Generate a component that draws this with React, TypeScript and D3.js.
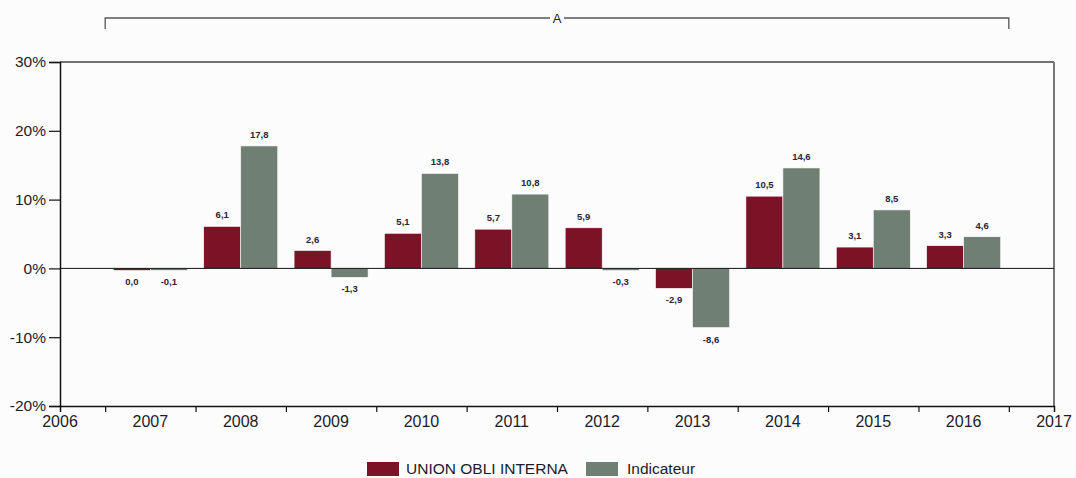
import React, { useEffect, useRef } from "react";
import * as d3 from "d3";

const years = [2007, 2008, 2009, 2010, 2011, 2012, 2013, 2014, 2015, 2016];
const seriesNames = ["UNION OBLI INTERNA", "Indicateur"];
const unionValues = [0.0, 6.1, 2.6, 5.1, 5.7, 5.9, -2.9, 10.5, 3.1, 3.3];
const indicValues = [-0.1, 17.8, -1.3, 13.8, 10.8, -0.3, -8.6, 14.6, 8.5, 4.6];
const yTicks = [-20, -10, 0, 10, 20, 30];
const xLabels = [2006, 2007, 2008, 2009, 2010, 2011, 2012, 2013, 2014, 2015, 2016, 2017];
const colors = ["#7c1226", "#6f7f73"];
const bracketLabel = "A";

export default function App() {
  const ref = useRef<SVGSVGElement | null>(null);

  useEffect(() => {
    const W = 1076, H = 478;
    const m = { left: 60, right: 22, top: 62, bottom: 72 };
    const svg = d3.select(ref.current);
    svg.selectAll("*").remove();
    svg.attr("width", W).attr("height", H);
    const font = "'Liberation Sans', Arial, sans-serif";

    svg.append("rect").attr("width", W).attr("height", H).attr("fill", "#fcfcfc");

    const x = d3.scaleLinear().domain([2006, 2017]).range([m.left, W - m.right]);
    const y = d3.scaleLinear().domain([-20, 30]).range([H - m.bottom, m.top]);
    const inner = d3.scaleBand<string>().domain(seriesNames).range([-37, 37]).padding(0);

    // frame
    svg.append("line").attr("x1", x(2006)).attr("x2", x(2017)).attr("y1", y(30)).attr("y2", y(30))
      .attr("stroke", "#444").attr("stroke-width", 1.5);
    svg.append("line").attr("x1", x(2017)).attr("x2", x(2017)).attr("y1", y(30)).attr("y2", y(-20))
      .attr("stroke", "#777").attr("stroke-width", 2);

    // bars
    const rows = years.map((yr, i) => ({ yr, vals: [unionValues[i], indicValues[i]] }));
    const g = svg.append("g");
    rows.forEach((r) => {
      r.vals.forEach((v, k) => {
        const bx = x(r.yr) + (inner(seriesNames[k]) as number);
        let top = Math.min(y(v), y(0));
        let h = Math.abs(y(v) - y(0));
        if (h < 2) { top = y(0); h = 2; }
        g.append("rect").attr("x", bx).attr("y", top).attr("width", inner.bandwidth()).attr("height", h)
          .attr("fill", colors[k]).attr("stroke", "#fcfcfc").attr("stroke-width", 0.6);
        const pos = v > 0;
        g.append("text")
          .attr("x", bx + inner.bandwidth() / 2)
          .attr("y", pos ? y(v) - 8 : top + h + 15)
          .attr("text-anchor", "middle")
          .attr("font-family", font).attr("font-size", 9.5).attr("font-weight", "bold")
          .attr("fill", "#2a2438")
          .text(d3.format(".1f")(v).replace(".", ",").replace("−", "-"));
      });
    });

    // zero line
    svg.append("line").attr("x1", x(2006)).attr("x2", x(2017)).attr("y1", y(0)).attr("y2", y(0))
      .attr("stroke", "#111").attr("stroke-width", 1);

    // y axis
    const ya = svg.append("g").attr("transform", `translate(${m.left},0)`)
      .call(d3.axisLeft(y).tickValues(yTicks).tickSize(11).tickPadding(3).tickFormat((d) => `${d}%`));
    ya.select(".domain").attr("stroke", "#111").attr("stroke-width", 1.5);
    ya.selectAll(".tick line").attr("stroke", "#111").attr("stroke-width", 1.2);
    ya.selectAll("text").attr("font-family", font).attr("font-size", 15.5).attr("fill", "#1d1a2c");

    // x axis
    const bottom = y(-20);
    const xa = svg.append("g").attr("transform", `translate(0,${bottom})`)
      .call(d3.axisBottom(x).tickValues(years.map((d) => d - 0.5).concat([2016.5])).tickSize(6).tickFormat(() => ""));
    xa.select(".domain").attr("stroke", "#111").attr("stroke-width", 1.5);
    xa.selectAll(".tick line").attr("stroke", "#111").attr("stroke-width", 1.2);
    svg.append("g").selectAll("text").data(xLabels).join("text")
      .attr("x", (d) => x(d)).attr("y", bottom + 21)
      .attr("text-anchor", "middle")
      .attr("font-family", font).attr("font-size", 16).attr("fill", "#1d1a2c")
      .text((d) => String(d));

    // bracket
    const bx0 = x(2006.5), bx1 = x(2016.5), by = 18;
    svg.append("path")
      .attr("d", `M${bx0},${by + 11}V${by}H${bx1}V${by + 11}`)
      .attr("fill", "none").attr("stroke", "#555").attr("stroke-width", 1.3);
    svg.append("rect").attr("x", (bx0 + bx1) / 2 - 7).attr("y", by - 7).attr("width", 14).attr("height", 14).attr("fill", "#fcfcfc");
    svg.append("text").attr("x", (bx0 + bx1) / 2).attr("y", by + 5).attr("text-anchor", "middle")
      .attr("font-family", font).attr("font-size", 13).attr("fill", "#1d1a2c").text(bracketLabel);

    // legend
    const leg = [
      { name: seriesNames[0], x: 367, tx: 406 },
      { name: seriesNames[1], x: 586, tx: 627 },
    ];
    leg.forEach((l, k) => {
      svg.append("rect").attr("x", l.x).attr("y", 462).attr("width", 32).attr("height", 14).attr("fill", colors[k]);
      svg.append("text").attr("x", l.tx).attr("y", 474)
        .attr("font-family", font).attr("font-size", 15.5).attr("fill", "#1d1a2c").text(l.name);
    });
  }, []);

  return (
    <div style={{ position: "absolute", left: 0, top: 0 }}>
      <svg ref={ref} />
    </div>
  );
}
